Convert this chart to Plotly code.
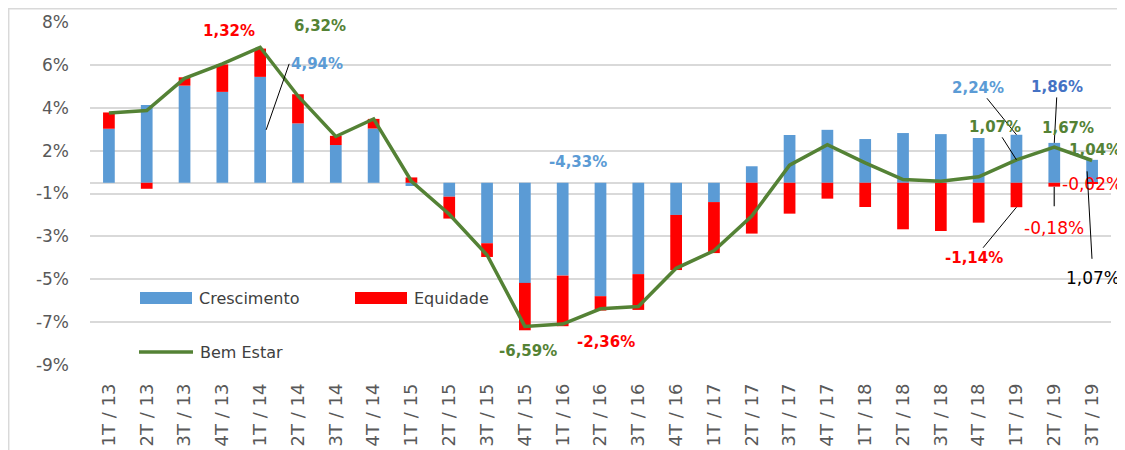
import plotly.graph_objects as go

categories = ["1T / 13", "2T / 13", "3T / 13", "4T / 13",
              "1T / 14", "2T / 14", "3T / 14", "4T / 14",
              "1T / 15", "2T / 15", "3T / 15", "4T / 15",
              "1T / 16", "2T / 16", "3T / 16", "4T / 16",
              "1T / 17", "2T / 17", "3T / 17", "4T / 17",
              "1T / 18", "2T / 18", "3T / 18", "4T / 18",
              "1T / 19", "2T / 19", "3T / 19"]

crescimento = [2.52, 3.63, 4.53, 4.24, 4.94, 2.77, 1.76, 2.53,
               -0.15, -0.65, -2.82, -4.67, -4.33, -5.29, -4.26, -1.50,
               -0.90, 0.77, 2.23, 2.47, 2.04, 2.32, 2.27, 2.09,
               2.24, 1.86, 1.07]

equidade = [0.76, -0.28, 0.39, 1.28, 1.32, 1.36, 0.43, 0.45,
            0.25, -1.02, -0.64, -2.21, -2.36, -0.67, -1.67, -2.57,
            -2.38, -2.37, -1.44, -0.74, -1.13, -2.17, -2.25, -1.86,
            -1.14, -0.18, -0.02]

bem_estar = [3.25, 3.37, 4.87, 5.55, 6.32, 4.05, 2.16, 2.98,
             0.07, -1.47, -3.37, -6.70, -6.59, -5.88, -5.77, -3.99,
             -3.17, -1.55, 0.82, 1.78, 0.93, 0.15, 0.07, 0.28,
             1.07, 1.67, 1.04]

tick_vals = [7.5, 5.5, 3.5, 1.5, -0.5, -2.5, -4.5, -6.5, -8.5]
tick_text = ["8%", "6%", "4%", "2%", "-1%", "-3%", "-5%", "-7%", "-9%"]

BLUE = "#5B9BD5"
RED = "#FF0000"
GREEN = "#548235"
DARKBLUE = "#4472C4"
GRID = "#D9D9D9"
TXT = "#595959"
FONT = "DejaVu Sans"

# page body has an 8px default margin; size the figure to fill the rest of the window
OFF = 8
W, H = 1125 - OFF, 450 - OFF
ML, MR, MT, MB = 90 - OFF, 14, 21 - OFF, 84
PW, PH = W - ML - MR, H - MT - MB


def px2x(px):
    return (px - OFF - ML) / PW


def px2y(py):
    return (H - MB - (py - OFF)) / PH


fig = go.Figure()
fig.add_trace(go.Bar(x=categories, y=crescimento, name="Crescimento",
                     marker=dict(color=BLUE, line=dict(width=0)), showlegend=False))
fig.add_trace(go.Bar(x=categories, y=equidade, name="Equidade",
                     marker=dict(color=RED, line=dict(width=0)), showlegend=False))
fig.add_trace(go.Scatter(x=categories, y=bem_estar, name="Bem Estar", mode="lines",
                         line=dict(color=GREEN, width=3.5), showlegend=False))

ann = []


def label(text, i, y, color, dx=0, dy=0, bold=True, size=15):
    t = f"<b>{text}</b>" if bold else text
    ann.append(dict(x=categories[i], y=y, xref="x", yref="y", text=t, showarrow=False,
                    xshift=dx, yshift=dy, font=dict(family=FONT, size=size, color=color)))


def leader(text, i, y, color, ax, ay, bold=True, size=15, xshift=0, xanchor="center",
           acolor="black", awidth=1, sstand=0):
    t = f"<b>{text}</b>" if bold else text
    ann.append(dict(x=categories[i], y=y, xref="x", yref="y", text=t, showarrow=True,
                    arrowhead=0, arrowwidth=awidth, arrowcolor=acolor, ax=ax, ay=ay,
                    xshift=xshift, xanchor=xanchor, startstandoff=sstand,
                    font=dict(family=FONT, size=size, color=color)))


label("1,32%", 4, bem_estar[4], RED, dx=-31, dy=16)
label("6,32%", 4, bem_estar[4], GREEN, dx=60, dy=21)
leader("4,94%", 4, crescimento[4] / 2, BLUE, ax=23, ay=-66, xshift=6, xanchor="left")
label("-4,33%", 12, 0, BLUE, dx=15, dy=21)
label("-6,59%", 11, bem_estar[11], GREEN, dx=3, dy=-25)
label("-2,36%", 12, crescimento[12] + equidade[12], RED, dx=43, dy=-16)
leader("2,24%", 24, crescimento[24], BLUE, ax=-38, ay=-47)
leader("1,86%", 25, crescimento[25], DARKBLUE, ax=3, ay=-56)
leader("1,07%", 24, bem_estar[24], GREEN, ax=-21, ay=-33)
label("1,67%", 25, bem_estar[25], GREEN, dx=14, dy=19)
label("1,04%", 26, bem_estar[26], GREEN, dx=3, dy=10)
label("-0,02%", 26, 0, RED, dx=0, dy=-1, bold=False, size=17)
leader("-0,18%", 25, equidade[25], RED, ax=0, ay=41, bold=False, size=17,
       acolor="#404040", awidth=1.5, sstand=10)
leader("-1,14%", 24, equidade[24], RED, ax=-42, ay=51)
leader("1,07%", 26, crescimento[26] / 2, "black", ax=6, ay=107, bold=False, size=17,
       xshift=-5, sstand=8)

# legend (manual)
legend_items = [("rect", BLUE, "Crescimento", 140, 192, 298),
                ("rect", RED, "Equidade", 355, 407, 298),
                ("line", GREEN, "Bem Estar", 139, 193, 352)]
shapes = []
for kind, col, name, x0, x1, yc in legend_items:
    if kind == "rect":
        shapes.append(dict(type="rect", xref="paper", yref="paper",
                           x0=px2x(x0), x1=px2x(x1), y0=px2y(yc + 6), y1=px2y(yc - 6),
                           fillcolor=col, line=dict(width=0)))
    else:
        shapes.append(dict(type="line", xref="paper", yref="paper",
                           x0=px2x(x0), x1=px2x(x1), y0=px2y(yc), y1=px2y(yc),
                           line=dict(color=col, width=3.5)))
    ann.append(dict(x=px2x(x1 + 5), y=px2y(yc), xref="paper", yref="paper", text=name,
                    showarrow=False, xanchor="left", yanchor="middle",
                    font=dict(family=FONT, size=16, color="#404040")))

# chart border (left and top)
shapes.append(dict(type="line", xref="paper", yref="paper", x0=px2x(8.7), x1=px2x(8.7),
                   y0=px2y(8), y1=px2y(450), line=dict(color=GRID, width=1.5)))
shapes.append(dict(type="line", xref="paper", yref="paper", x0=px2x(8), x1=px2x(1125),
                   y0=px2y(8.7), y1=px2y(8.7), line=dict(color=GRID, width=1.5)))

fig.update_layout(
    width=W, height=H,
    margin=dict(l=ML, r=MR, t=MT, b=MB, autoexpand=False),
    paper_bgcolor="white", plot_bgcolor="white",
    barmode="relative", bargap=0.69,
    font=dict(family=FONT, color=TXT),
    annotations=ann, shapes=shapes,
    xaxis=dict(type="category", range=[-0.5, len(categories) - 0.5], autorange=False,
               tickangle=-90, ticks="", showgrid=False,
               tickfont=dict(family=FONT, size=18, color=TXT), ticklabelstandoff=13,
               showline=False, automargin=False),
    yaxis=dict(range=[-8.546, 7.546], autorange=False, tickvals=tick_vals, ticktext=tick_text,
               showgrid=True, gridcolor=GRID, gridwidth=1.5,
               zeroline=True, zerolinecolor=GRID, zerolinewidth=1.5,
               ticks="", tickfont=dict(family=FONT, size=17, color=TXT),
               ticklabelstandoff=20, showline=False, automargin=False),
)

fig.write_html("out.html")
